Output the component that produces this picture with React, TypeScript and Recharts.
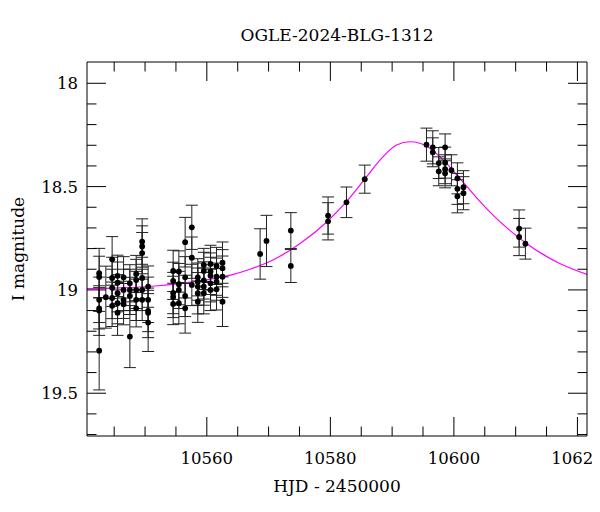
import React from 'react';
import { ComposedChart, Scatter, Line, XAxis, YAxis, ErrorBar, Label } from 'recharts';

// ---- Data ----
const hjd = [
  10542.57, 10542.57, 10542.57, 10542.57, 10542.57, 10542.57,
  10543.65,
  10544.67, 10544.67, 10544.67, 10544.67, 10544.67,
  10545.55, 10545.55, 10545.55, 10545.55, 10545.55,
  10546.52, 10546.52, 10546.52, 10546.52,
  10547.54, 10547.54, 10547.54, 10547.54,
  10548.56, 10548.56, 10548.56, 10548.56, 10548.56,
  10549.53, 10549.53, 10549.53, 10549.53, 10549.53, 10549.53,
  10550.50, 10550.50, 10550.50, 10550.50, 10550.50,
  10554.55, 10554.55, 10554.55, 10554.55, 10554.55,
  10555.47, 10555.47, 10555.47, 10555.47,
  10556.49, 10556.49, 10556.49, 10556.49,
  10557.57, 10557.57, 10557.57,
  10558.54, 10558.54, 10558.54, 10558.54, 10558.54,
  10559.51, 10559.51, 10559.51, 10559.51, 10559.51,
  10560.60, 10560.60, 10560.60, 10560.60, 10560.60,
  10561.57, 10561.57, 10561.57, 10561.57,
  10562.54, 10562.54, 10562.54, 10562.54,
  10568.63, 10569.66, 10573.60, 10573.60,
  10579.63, 10579.63, 10582.61, 10585.57,
  10595.56, 10596.58, 10596.58, 10597.55, 10597.55,
  10598.58, 10598.58, 10598.58, 10598.58, 10599.60,
  10600.57, 10600.57, 10600.57, 10601.55, 10601.55,
  10610.56, 10610.56, 10611.58,
];

const mag = [
  18.919, 18.937, 19.048, 19.089, 19.100, 19.294,
  19.035,
  18.852, 18.942, 18.990, 19.039, 19.077,
  18.932, 18.965, 19.016, 19.064, 19.110,
  18.939, 19.000, 19.048, 19.069,
  18.968, 19.000, 19.029, 19.226,
  18.923, 18.952, 19.000, 19.048, 19.089,
  18.766, 18.790, 18.822, 18.942, 19.000, 19.048,
  18.984, 19.048, 19.102, 19.111, 19.158,
  18.908, 18.956, 19.015, 19.034, 19.068,
  18.911, 18.972, 19.000, 19.064,
  18.769, 18.939, 19.029, 19.089,
  18.697, 18.844, 18.976,
  18.939, 18.960, 18.984, 19.016, 19.057,
  18.879, 18.908, 18.954, 18.984, 19.016,
  18.874, 18.911, 18.932, 18.968, 19.000,
  18.884, 18.936, 18.960, 18.997,
  18.868, 18.895, 18.936, 19.057,
  18.826, 18.763, 18.713, 18.884,
  18.640, 18.668, 18.576, 18.464,
  18.297, 18.310, 18.334, 18.386, 18.426,
  18.310, 18.384, 18.416, 18.436, 18.421,
  18.460, 18.511, 18.547, 18.503, 18.532,
  18.703, 18.744, 18.776,
];

const magErr = [
  0.12, 0.10, 0.11, 0.10, 0.12, 0.19,
  0.15,
  0.11, 0.10, 0.09, 0.10, 0.10,
  0.10, 0.10, 0.09, 0.10, 0.11,
  0.10, 0.10, 0.09, 0.10,
  0.09, 0.10, 0.09, 0.15,
  0.09, 0.10, 0.09, 0.10, 0.09,
  0.11, 0.10, 0.10, 0.10, 0.10, 0.10,
  0.10, 0.11, 0.10, 0.12, 0.14,
  0.10, 0.09, 0.10, 0.10, 0.10,
  0.10, 0.10, 0.09, 0.10,
  0.12, 0.10, 0.10, 0.12,
  0.107, 0.10, 0.10,
  0.09, 0.09, 0.09, 0.10, 0.10,
  0.08, 0.09, 0.09, 0.09, 0.10,
  0.09, 0.09, 0.09, 0.09, 0.10,
  0.09, 0.09, 0.09, 0.10,
  0.10, 0.09, 0.10, 0.12,
  0.122, 0.124, 0.087, 0.08,
  0.09, 0.09, 0.074, 0.068,
  0.08, 0.08, 0.07, 0.075, 0.07,
  0.065, 0.075, 0.07, 0.07, 0.075,
  0.075, 0.075, 0.08, 0.08, 0.08,
  0.09, 0.09, 0.075,
];

const modelHjd = [
  10540.6, 10545.9, 10551.6, 10555.9, 10561.1, 10564.0, 10567.0, 10570.7,
  10575.05, 10579.63, 10582.61, 10585.57, 10588.54, 10590.71, 10592.86,
  10594.48, 10596.10, 10598.25, 10600.95, 10603.65, 10606.34, 10609.05,
  10611.75, 10614.44, 10617.14, 10621.55,
];
const modelMag = [
  18.994, 18.990, 18.981, 18.968, 18.945, 18.927, 18.900, 18.855,
  18.777, 18.665, 18.573, 18.464, 18.355, 18.299, 18.283,
  18.290, 18.315, 18.371, 18.460, 18.553, 18.638, 18.712,
  18.775, 18.828, 18.872, 18.925,
];

const xTicks = [10545, 10550, 10555, 10560, 10565, 10570, 10575, 10580, 10585, 10590, 10595, 10600, 10605, 10610, 10615, 10620];
const xLabels = [10560, 10580, 10600, 10620];
const yTicks = [18.0, 18.1, 18.2, 18.3, 18.4, 18.5, 18.6, 18.7, 18.8, 18.9, 19.0, 19.1, 19.2, 19.3, 19.4, 19.5, 19.6, 19.7];
const yLabels = [18, 18.5, 19, 19.5];

const titleText = 'OGLE-2024-BLG-1312';
const xTitleText = 'HJD - 2450000';
const yTitleText = 'I magnitude';

const xDomain: [number, number] = [10540.6, 10621.55];
const yDomain: [number, number] = [17.897, 19.707];

const points = hjd.map((t, i) => ({ t, m: mag[i], e: magErr[i] }));
const model = modelHjd.map((t, i) => ({ t, m: modelMag[i] }));

// ---- Styling ----
const FONT = "'DejaVu Serif', serif";
const W = 592;
const H = 496;
const LEFT = 79;
const RIGHT = 13;
const TOP = 54;
const BOTTOM = 68;
const MAJOR = 19;
const MINOR = 9.5;

const isIn = (v: number, list: number[]) => list.some((l) => Math.abs(l - v) < 1e-6);

const BottomTick = (p: any) => {
  const major = isIn(p.payload.value, xLabels);
  return (
    <g>
      <line x1={p.x} y1={p.y} x2={p.x} y2={p.y - (major ? MAJOR : MINOR)} stroke="#000" strokeWidth={1} />
      {major && (
        <text x={p.x} y={p.y + 28} textAnchor="middle" fontFamily={FONT} fontSize={16.5} fill="#000">
          {p.payload.value}
        </text>
      )}
    </g>
  );
};

const TopTick = (p: any) => {
  const major = isIn(p.payload.value, xLabels);
  return <line x1={p.x} y1={p.y} x2={p.x} y2={p.y + (major ? MAJOR : MINOR)} stroke="#000" strokeWidth={1} />;
};

const LeftTick = (p: any) => {
  const major = isIn(p.payload.value, yLabels);
  return (
    <g>
      <line x1={p.x} y1={p.y} x2={p.x + (major ? MAJOR : MINOR)} y2={p.y} stroke="#000" strokeWidth={1} />
      {major && (
        <text x={p.x - 9} y={p.y + 6} textAnchor="end" fontFamily={FONT} fontSize={16.5} fill="#000">
          {p.payload.value}
        </text>
      )}
    </g>
  );
};

const RightTick = (p: any) => {
  const major = isIn(p.payload.value, yLabels);
  return <line x1={p.x} y1={p.y} x2={p.x - (major ? MAJOR : MINOR)} y2={p.y} stroke="#000" strokeWidth={1} />;
};

const Dot = (p: any) => <circle cx={p.cx} cy={p.cy} r={2.9} fill="#000" />;

export default function App() {
  return (
    <div style={{ position: 'relative', width: W, height: H }}>
      <ComposedChart width={W} height={H} margin={{ top: 0, right: 0, bottom: 0, left: 0 }}>
        <XAxis
          xAxisId="b"
          dataKey="t"
          type="number"
          orientation="bottom"
          domain={xDomain}
          allowDataOverflow
          ticks={xTicks}
          interval={0}
          height={BOTTOM}
          tickSize={0}
          tickMargin={0}
          tickLine={false}
          axisLine={{ stroke: '#000', strokeWidth: 1 }}
          tick={<BottomTick />}
        >
          <Label
            content={() => (
              <text x={329} y={484} textAnchor="middle" fontFamily={FONT} fontSize={17} fill="#000">
                {xTitleText}
              </text>
            )}
          />
        </XAxis>
        <XAxis
          xAxisId="t"
          dataKey="t"
          type="number"
          orientation="top"
          domain={xDomain}
          allowDataOverflow
          ticks={xTicks}
          interval={0}
          height={TOP}
          tickSize={0}
          tickMargin={0}
          tickLine={false}
          axisLine={{ stroke: '#000', strokeWidth: 1 }}
          tick={<TopTick />}
        >
          <Label
            content={() => (
              <text x={329} y={33} textAnchor="middle" fontFamily={FONT} fontSize={17} fill="#000">
                {titleText}
              </text>
            )}
          />
        </XAxis>
        <YAxis
          yAxisId="l"
          dataKey="m"
          type="number"
          orientation="left"
          domain={yDomain}
          reversed
          allowDataOverflow
          ticks={yTicks}
          interval={0}
          width={LEFT}
          tickSize={0}
          tickMargin={0}
          tickLine={false}
          axisLine={{ stroke: '#000', strokeWidth: 1 }}
          tick={<LeftTick />}
        >
          <Label
            content={() => (
              <text
                x={16}
                y={241}
                transform="rotate(-90 16 241)"
                textAnchor="middle"
                fontFamily={FONT}
                fontSize={17}
                fill="#000"
              >
                {yTitleText}
              </text>
            )}
          />
        </YAxis>
        <YAxis
          yAxisId="r"
          dataKey="m"
          type="number"
          orientation="right"
          domain={yDomain}
          reversed
          allowDataOverflow
          ticks={yTicks}
          interval={0}
          width={RIGHT}
          tickSize={0}
          tickMargin={0}
          tickLine={false}
          axisLine={{ stroke: '#000', strokeWidth: 1 }}
          tick={<RightTick />}
        />
        <Line
          data={model}
          dataKey="m"
          xAxisId="b"
          yAxisId="l"
          type="monotone"
          stroke="#ff00ff"
          strokeWidth={1.2}
          dot={false}
          activeDot={false}
          isAnimationActive={false}
        />
        <Scatter
          data={points}
          dataKey="m"
          xAxisId="b"
          yAxisId="l"
          shape={<Dot />}
          isAnimationActive={false}
        >
          <ErrorBar dataKey="e" direction="y" width={6} stroke="#222" strokeWidth={1} isAnimationActive={false} />
        </Scatter>
      </ComposedChart>
    </div>
  );
}
